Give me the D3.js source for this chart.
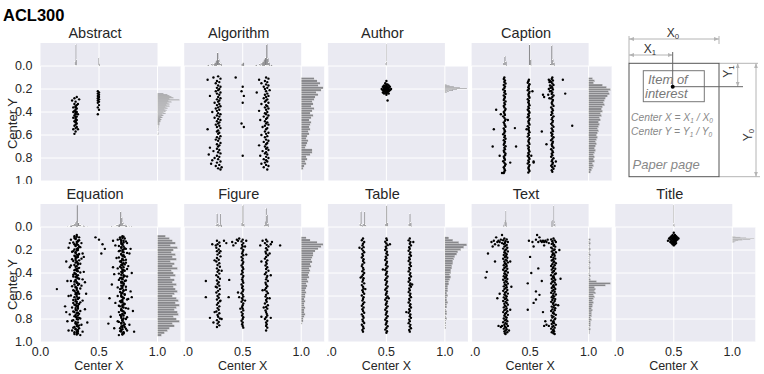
<!DOCTYPE html>
<html lang="en">
<head>
<meta charset="UTF-8">
<title>ACL300</title>
<script src="https://d3js.org/d3.v7.min.js"></script>
<style>
  body { margin: 0; background: #fff; font-family: "Liberation Sans", Arial, sans-serif; }
  svg text { fill: #262626; }
</style>
</head>
<body>
<div id="chart"></div>
<script>
// ---- data ----
const categories = ["Abstract", "Algorithm", "Author", "Caption", "Equation", "Figure", "Table", "Text", "Title"];
const yTicks = [0, 0.2, 0.4, 0.6, 0.8, 1.0];
const xTicks = [0, 0.5, 1.0];
const yTickLabels = ["0.0", "0.2", "0.4", "0.6", "0.8", "1.0"];
const xTickLabels = ["0.0", "0.5", "1.0"];

// scatter points [centerX, centerY]
const abstractPts = [[.29,.28],[.31,.27],[.27,.30],[.33,.29],[.30,.31],[.29,.33],[.31,.34],[.30,.35],[.28,.36],[.31,.37],[.30,.38],[.29,.39],[.31,.40],[.30,.41],[.30,.42],[.29,.43],[.31,.44],[.30,.45],[.28,.45],[.30,.46],[.31,.47],[.29,.48],[.30,.49],[.31,.50],[.30,.51],[.29,.52],[.31,.53],[.30,.54],[.28,.55],[.32,.55],[.30,.57],[.29,.59],[.30,.36],[.30,.40],[.30,.44],[.30,.48],[.32,.42],[.28,.40],[.32,.33],
  [.49,.22],[.50,.23],[.49,.24],[.50,.25],[.49,.26],[.50,.27],[.49,.28],[.50,.29],[.49,.30],[.50,.31],[.49,.32],[.50,.34],[.49,.36],[.50,.38],[.49,.42]];
const algorithmPts = [[.25,.10],[.29,.09],[.31,.11],[.20,.12],[.28,.13],[.30,.14],[.27,.15],[.29,.17],[.31,.18],[.28,.19],[.30,.20],[.29,.21],[.27,.22],[.31,.23],[.28,.24],[.30,.25],[.22,.26],[.29,.27],[.31,.28],[.28,.29],[.30,.30],[.29,.31],[.26,.32],[.30,.33],[.28,.34],[.31,.35],[.29,.36],[.27,.37],[.30,.38],[.28,.39],[.24,.40],[.29,.41],[.31,.42],[.28,.43],[.30,.44],[.26,.45],[.29,.46],[.31,.47],[.28,.48],[.30,.49],[.29,.50],[.27,.51],[.30,.52],[.28,.53],[.31,.54],[.20,.55],[.29,.56],[.28,.57],[.30,.58],[.29,.59],[.31,.61],[.28,.62],[.30,.63],[.27,.64],[.29,.65],[.31,.67],[.28,.68],[.30,.69],[.29,.70],[.22,.71],[.28,.72],[.30,.73],[.25,.74],[.29,.75],[.31,.76],[.21,.77],[.28,.78],[.30,.79],[.26,.80],[.29,.81],[.24,.82],[.31,.83],[.28,.84],[.23,.85],[.30,.86],[.27,.87],[.32,.88],[.29,.89],[.31,.90],
  [.44,.10],[.50,.18],[.49,.22],[.51,.26],[.50,.32],[.49,.50],[.51,.53],[.50,.78],
  [.70,.10],[.72,.11],[.64,.12],[.69,.13],[.71,.14],[.66,.15],[.70,.16],[.72,.17],[.68,.18],[.71,.19],[.69,.20],[.73,.21],[.70,.22],[.62,.23],[.71,.24],[.69,.25],[.72,.26],[.70,.27],[.68,.28],[.71,.29],[.70,.30],[.69,.31],[.72,.32],[.66,.33],[.70,.34],[.71,.35],[.69,.36],[.72,.37],[.70,.38],[.64,.39],[.71,.40],[.69,.41],[.70,.42],[.72,.43],[.68,.44],[.71,.45],[.70,.46],[.65,.47],[.69,.48],[.71,.49],[.70,.50],[.72,.51],[.69,.52],[.67,.53],[.71,.54],[.70,.55],[.69,.57],[.72,.58],[.70,.59],[.66,.60],[.71,.61],[.69,.62],[.70,.64],[.72,.65],[.68,.66],[.71,.67],[.70,.68],[.64,.69],[.69,.70],[.71,.71],[.70,.72],[.72,.73],[.67,.74],[.70,.75],[.69,.76],[.71,.77],[.65,.78],[.70,.79],[.72,.80],[.68,.81],[.70,.82],[.71,.83],[.69,.84],[.66,.85],[.70,.86],[.72,.87],[.68,.88],[.71,.90]];
const authorPts = [[.49,.15],[.50,.16],[.51,.16],[.48,.17],[.50,.17],[.52,.17],[.47,.18],[.49,.18],[.50,.18],[.51,.18],[.53,.18],[.48,.19],[.49,.19],[.50,.19],[.51,.19],[.52,.19],[.46,.20],[.48,.20],[.49,.20],[.50,.20],[.51,.20],[.52,.20],[.54,.20],[.47,.21],[.49,.21],[.50,.21],[.51,.21],[.53,.21],[.48,.22],[.50,.22],[.51,.22],[.52,.22],[.49,.23],[.50,.23],[.51,.23],[.48,.24],[.50,.24],[.52,.24],[.50,.25],[.51,.30],[.495,.185],[.505,.195],[.495,.205],[.505,.215],[.485,.195],[.515,.205],[.50,.13],[.47,.23]];
const captionPts = [[.28,.10],[.275,.113],[.285,.126],[.28,.139],[.29,.152],[.275,.165],[.285,.178],[.28,.191],[.27,.204],[.285,.217],[.28,.23],[.29,.243],[.275,.256],[.285,.269],[.28,.282],[.275,.295],[.29,.308],[.28,.321],[.285,.334],[.275,.347],[.28,.36],[.29,.373],[.285,.386],[.275,.399],[.28,.412],[.285,.425],[.27,.438],[.28,.451],[.29,.464],[.285,.477],[.275,.49],[.28,.503],[.285,.516],[.29,.529],[.275,.542],[.28,.555],[.285,.568],[.28,.581],[.27,.594],[.285,.607],[.28,.62],[.29,.633],[.275,.646],[.285,.659],[.28,.672],[.275,.685],[.29,.698],[.28,.711],[.285,.724],[.275,.737],[.28,.75],[.29,.763],[.285,.776],[.275,.789],[.28,.802],[.285,.815],[.27,.828],[.28,.841],[.29,.854],[.285,.867],[.275,.88],[.28,.893],[.285,.906],[.28,.919],[.275,.93],
  [.21,.38],[.19,.55],[.18,.70],[.37,.54],[.38,.70],[.25,.42],[.31,.47],[.24,.78],[.33,.84],[.26,.93],
  [.49,.12],[.485,.133],[.48,.146],[.495,.159],[.49,.172],[.485,.185],[.49,.198],[.48,.211],[.495,.224],[.49,.237],[.485,.25],[.49,.263],[.495,.276],[.48,.289],[.49,.302],[.485,.315],[.49,.328],[.495,.341],[.485,.354],[.49,.367],[.48,.38],[.49,.393],[.495,.406],[.485,.419],[.49,.432],[.48,.445],[.495,.458],[.49,.471],[.485,.484],[.49,.497],[.495,.51],[.48,.523],[.49,.536],[.485,.549],[.49,.562],[.495,.575],[.485,.588],[.49,.601],[.48,.614],[.495,.627],[.49,.64],[.485,.653],[.49,.666],[.495,.679],[.48,.692],[.49,.705],[.485,.718],[.49,.731],[.495,.744],[.485,.757],[.49,.77],[.48,.783],[.49,.796],[.495,.809],[.485,.822],[.49,.835],[.48,.848],[.495,.861],[.49,.874],[.485,.887],[.49,.90],[.495,.913],[.485,.926],
  [.52,.22],[.47,.55],[.51,.78],[.53,.84],
  [.69,.10],[.685,.113],[.695,.126],[.68,.139],[.69,.152],[.70,.165],[.685,.178],[.69,.191],[.695,.204],[.68,.217],[.69,.23],[.685,.243],[.70,.256],[.69,.269],[.68,.282],[.695,.295],[.69,.308],[.685,.321],[.69,.334],[.70,.347],[.68,.36],[.69,.373],[.695,.386],[.685,.399],[.69,.412],[.68,.425],[.70,.438],[.69,.451],[.685,.464],[.695,.477],[.69,.49],[.68,.503],[.69,.516],[.70,.529],[.685,.542],[.69,.555],[.695,.568],[.68,.581],[.69,.594],[.685,.607],[.70,.62],[.69,.633],[.68,.646],[.695,.659],[.69,.672],[.685,.685],[.69,.698],[.70,.711],[.68,.724],[.69,.737],[.695,.75],[.685,.763],[.69,.776],[.68,.789],[.70,.802],[.69,.815],[.685,.828],[.695,.841],[.69,.854],[.68,.867],[.69,.88],[.70,.893],[.685,.906],[.69,.919],
  [.66,.12],[.665,.14],[.67,.17],[.66,.20],[.67,.22],[.655,.25],[.665,.28],[.67,.13],[.675,.19],
  [.78,.12],[.80,.24],[.86,.52],[.61,.25],[.62,.27],[.60,.57],[.64,.68],[.53,.83],[.72,.83],[.71,.87]];
const equationPts = [[.31,.07],[.29,.08],[.33,.09],[.30,.10],[.26,.11],[.32,.12],[.31,.13],[.35,.14],[.29,.15],[.30,.16],[.33,.17],[.24,.18],[.31,.19],[.32,.20],[.28,.21],[.30,.22],[.36,.23],[.31,.24],[.29,.25],[.32,.26],[.30,.27],[.27,.28],[.33,.29],[.31,.30],[.30,.31],[.34,.32],[.29,.33],[.31,.34],[.25,.35],[.32,.36],[.30,.37],[.31,.38],[.37,.39],[.29,.40],[.30,.41],[.32,.42],[.28,.43],[.31,.44],[.33,.45],[.30,.46],[.26,.47],[.31,.48],[.32,.49],[.29,.50],[.35,.51],[.30,.52],[.31,.53],[.14,.54],[.28,.55],[.32,.56],[.30,.57],[.33,.58],[.31,.59],[.24,.60],[.29,.61],[.32,.62],[.30,.63],[.36,.64],[.31,.65],[.28,.66],[.33,.67],[.30,.68],[.31,.69],[.27,.70],[.32,.71],[.30,.72],[.34,.73],[.29,.74],[.31,.75],[.25,.76],[.32,.77],[.30,.78],[.33,.79],[.31,.80],[.28,.81],[.23,.82],[.32,.83],[.30,.84],[.35,.85],[.31,.86],[.29,.87],[.33,.88],[.30,.89],[.27,.90],[.32,.91],[.31,.92],[.29,.93],[.34,.94],
  [.31,.085],[.30,.105],[.32,.125],[.31,.145],[.30,.165],[.32,.185],[.31,.205],[.30,.225],[.32,.245],[.31,.265],[.30,.285],[.31,.305],[.32,.325],[.30,.345],[.31,.365],[.32,.385],[.30,.405],[.31,.425],[.32,.445],[.30,.465],[.31,.485],[.32,.505],[.30,.525],[.31,.545],[.32,.565],[.30,.585],[.31,.605],[.32,.625],[.30,.645],[.31,.665],[.32,.685],[.30,.705],[.31,.725],[.32,.745],[.30,.765],[.31,.785],[.32,.805],[.30,.825],[.31,.845],[.32,.865],[.30,.885],[.31,.905],[.32,.925],
  [.29,.095],[.33,.115],[.28,.135],[.32,.155],[.34,.175],[.29,.195],[.27,.215],[.33,.235],[.30,.255],[.35,.275],[.28,.295],[.32,.315],[.26,.335],[.33,.355],[.29,.375],[.34,.395],[.28,.415],[.30,.435],[.36,.455],[.29,.475],[.33,.495],[.27,.515],[.34,.535],[.29,.555],[.31,.575],[.26,.595],[.33,.615],[.28,.635],[.34,.655],[.29,.675],[.32,.695],[.38,.715],[.28,.735],[.33,.755],[.29,.775],[.34,.795],[.27,.815],[.30,.835],[.33,.855],[.28,.875],[.32,.895],[.29,.915],[.31,.935],[.22,.30],[.39,.58],[.21,.69],[.40,.83],[.23,.47],[.37,.26],[.24,.90],[.36,.91],[.25,.14],[.38,.48],[.22,.74],
  [.47,.09],[.50,.11],[.53,.15],[.55,.19],[.52,.23],
  [.70,.08],[.68,.09],[.72,.10],[.66,.11],[.71,.12],[.69,.13],[.74,.14],[.70,.15],[.64,.16],[.71,.17],[.69,.18],[.73,.19],[.70,.20],[.67,.21],[.71,.22],[.76,.23],[.69,.24],[.70,.25],[.72,.26],[.65,.27],[.70,.28],[.71,.29],[.68,.30],[.73,.31],[.70,.32],[.69,.33],[.75,.34],[.71,.35],[.66,.36],[.70,.37],[.72,.38],[.69,.39],[.70,.40],[.63,.41],[.71,.42],[.74,.43],[.69,.44],[.70,.45],[.67,.46],[.72,.47],[.70,.48],[.71,.49],[.61,.50],[.69,.51],[.73,.52],[.70,.53],[.68,.54],[.71,.55],[.77,.56],[.70,.57],[.69,.58],[.72,.59],[.66,.60],[.70,.61],[.71,.62],[.74,.63],[.69,.64],[.70,.65],[.64,.66],[.72,.67],[.70,.68],[.68,.69],[.71,.70],[.75,.71],[.69,.72],[.70,.73],[.67,.74],[.72,.75],[.70,.76],[.71,.77],[.60,.78],[.69,.79],[.73,.80],[.70,.81],[.66,.82],[.71,.83],[.69,.84],[.76,.85],[.70,.86],[.72,.87],[.68,.88],[.70,.89],[.74,.90],[.69,.91],[.71,.92],[.70,.93],[.67,.94],
  [.70,.095],[.69,.115],[.71,.135],[.70,.155],[.69,.175],[.71,.195],[.70,.215],[.69,.235],[.71,.255],[.70,.275],[.69,.295],[.71,.315],[.70,.335],[.69,.355],[.71,.375],[.70,.395],[.69,.415],[.71,.435],[.70,.455],[.69,.475],[.71,.495],[.70,.515],[.69,.535],[.71,.555],[.70,.575],[.69,.595],[.71,.615],[.70,.635],[.69,.655],[.71,.675],[.70,.695],[.69,.715],[.71,.735],[.70,.755],[.69,.775],[.71,.795],[.70,.815],[.69,.835],[.71,.855],[.70,.875],[.69,.895],[.71,.915],[.70,.935],
  [.71,.085],[.68,.105],[.73,.125],[.69,.145],[.67,.165],[.72,.185],[.68,.205],[.74,.225],[.71,.245],[.67,.265],[.73,.285],[.69,.305],[.72,.325],[.68,.345],[.74,.365],[.70,.385],[.67,.405],[.72,.425],[.68,.445],[.73,.465],[.69,.485],[.71,.505],[.66,.525],[.73,.545],[.68,.565],[.72,.585],[.69,.605],[.75,.625],[.68,.645],[.71,.665],[.67,.685],[.73,.705],[.69,.725],[.72,.745],[.68,.765],[.74,.785],[.70,.805],[.67,.825],[.72,.845],[.69,.865],[.73,.885],[.68,.905],[.71,.925],[.62,.35],[.78,.40],[.59,.62],[.79,.73],[.63,.88],[.77,.19],[.62,.12],[.78,.61],[.58,.84],[.80,.91]];
const figurePts = [[.28,.12],[.30,.135],[.285,.15],[.305,.165],[.275,.18],[.295,.195],[.28,.21],[.30,.225],[.285,.24],[.31,.255],[.28,.27],[.295,.285],[.275,.30],[.30,.315],[.285,.33],[.305,.345],[.28,.36],[.295,.375],[.285,.39],[.30,.405],[.275,.42],[.29,.435],[.305,.45],[.28,.465],[.295,.48],[.285,.495],[.30,.51],[.28,.525],[.305,.54],[.29,.555],[.275,.57],[.30,.585],[.285,.60],[.295,.615],[.28,.63],[.305,.645],[.29,.66],[.28,.675],[.30,.69],[.285,.705],[.295,.72],[.275,.735],[.30,.75],[.285,.765],[.29,.78],[.305,.795],[.28,.81],[.295,.825],[.285,.84],[.30,.855],[.28,.87],
  [.27,.16],[.31,.21],[.26,.29],[.32,.38],[.27,.52],[.31,.64],[.26,.74],[.32,.80],
  [.50,.11],[.49,.125],[.505,.14],[.495,.155],[.50,.17],[.49,.185],[.505,.20],[.50,.215],[.495,.23],[.505,.245],[.49,.26],[.50,.275],[.495,.29],[.505,.305],[.50,.32],[.49,.335],[.50,.35],[.505,.365],[.495,.38],[.50,.395],[.49,.41],[.505,.425],[.50,.44],[.495,.455],[.50,.47],[.505,.485],[.49,.50],[.50,.515],[.495,.53],[.505,.545],[.50,.56],[.49,.575],[.50,.59],[.505,.605],[.495,.62],[.50,.635],[.49,.65],[.505,.665],[.50,.68],[.495,.695],[.50,.71],[.505,.725],[.49,.74],[.50,.755],[.495,.77],[.505,.785],[.50,.80],[.49,.815],[.50,.83],[.495,.845],[.50,.86],[.505,.875],
  [.42,.16],[.45,.11],[.44,.14],[.47,.10],[.41,.13],[.46,.12],[.53,.12],[.52,.17],[.46,.57],[.47,.61],[.52,.64],[.53,.24],[.48,.71],
  [.70,.11],[.71,.125],[.69,.14],[.705,.155],[.72,.17],[.70,.185],[.71,.20],[.695,.215],[.70,.23],[.715,.245],[.70,.26],[.69,.275],[.71,.29],[.70,.305],[.705,.32],[.695,.335],[.71,.35],[.70,.365],[.72,.38],[.70,.395],[.69,.41],[.71,.425],[.705,.44],[.70,.455],[.715,.47],[.695,.485],[.70,.50],[.71,.515],[.70,.53],[.69,.545],[.705,.56],[.715,.575],[.70,.59],[.695,.605],[.71,.62],[.70,.635],[.705,.65],[.69,.665],[.715,.68],[.70,.695],[.71,.71],[.695,.725],[.70,.74],[.705,.755],[.71,.77],[.70,.785],[.69,.80],[.71,.815],[.70,.83],[.705,.845],[.70,.86],[.71,.875],[.70,.90],
  [.65,.16],[.67,.12],[.75,.13],[.82,.16],[.74,.15],[.66,.30],[.74,.42],[.73,.62],[.66,.78],[.74,.79],[.67,.55],[.73,.23],[.68,.70],
  [.185,.47],[.385,.46],[.185,.61],[.38,.61],[.22,.79],[.25,.83],[.34,.12],[.36,.14],[.24,.15]];
const tablePts = [[.30,.10],[.29,.115],[.31,.13],[.30,.145],[.295,.16],[.305,.175],[.29,.19],[.30,.205],[.31,.22],[.295,.235],[.30,.25],[.29,.265],[.305,.28],[.30,.295],[.31,.31],[.295,.325],[.29,.34],[.30,.355],[.305,.37],[.295,.385],[.31,.40],[.30,.415],[.29,.43],[.305,.445],[.30,.46],[.295,.475],[.31,.49],[.29,.505],[.30,.52],[.305,.535],[.295,.55],[.30,.565],[.31,.58],[.29,.595],[.305,.61],[.30,.625],[.295,.64],[.31,.655],[.30,.67],[.29,.685],[.305,.70],[.295,.715],[.30,.73],[.31,.745],[.29,.76],[.30,.775],[.305,.79],[.295,.805],[.30,.82],[.31,.835],[.29,.85],[.30,.865],[.305,.88],[.295,.895],[.30,.91],
  [.50,.10],[.505,.114],[.49,.128],[.50,.143],[.51,.158],[.495,.172],[.50,.186],[.49,.20],[.505,.215],[.50,.23],[.51,.244],[.495,.258],[.50,.272],[.49,.287],[.505,.302],[.50,.316],[.495,.33],[.51,.344],[.50,.359],[.49,.374],[.505,.388],[.50,.402],[.495,.416],[.51,.431],[.50,.446],[.49,.46],[.505,.474],[.50,.488],[.495,.503],[.51,.518],[.50,.532],[.49,.546],[.505,.56],[.50,.575],[.495,.59],[.51,.604],[.50,.618],[.49,.632],[.505,.647],[.50,.662],[.495,.676],[.51,.69],[.50,.704],[.49,.719],[.505,.734],[.50,.748],[.495,.762],[.51,.776],[.50,.791],[.49,.806],[.505,.82],[.50,.834],[.495,.848],[.51,.863],[.50,.878],[.49,.892],[.505,.906],[.50,.92],
  [.70,.10],[.69,.116],[.705,.131],[.70,.146],[.71,.16],[.695,.175],[.70,.19],[.69,.206],[.705,.221],[.70,.236],[.71,.25],[.695,.265],[.70,.28],[.69,.296],[.705,.311],[.70,.326],[.71,.34],[.695,.355],[.70,.37],[.69,.386],[.705,.401],[.70,.416],[.71,.43],[.695,.445],[.70,.46],[.69,.476],[.705,.491],[.70,.506],[.71,.52],[.695,.535],[.70,.55],[.69,.566],[.705,.581],[.70,.596],[.71,.61],[.695,.625],[.70,.64],[.69,.656],[.705,.671],[.70,.686],[.71,.70],[.695,.715],[.70,.73],[.69,.746],[.705,.761],[.70,.776],[.71,.79],[.695,.805],[.70,.82],[.69,.836],[.705,.851],[.70,.866],[.71,.88],[.695,.895],[.70,.91],
  [.28,.44],[.32,.54],[.47,.37],[.52,.62],[.72,.50],[.67,.74],[.27,.18],[.53,.15],[.73,.13]];
const textPts = [[.28,.10],[.30,.108],[.27,.115],[.29,.124],[.31,.131],[.285,.139],[.275,.148],[.30,.156],[.29,.163],[.28,.171],[.305,.18],[.27,.188],[.295,.195],[.285,.204],[.31,.212],[.28,.219],[.29,.228],[.30,.236],[.275,.243],[.295,.252],[.285,.26],[.305,.267],[.27,.276],[.29,.284],[.30,.291],[.28,.30],[.31,.308],[.285,.315],[.295,.324],[.275,.332],[.30,.339],[.29,.348],[.28,.356],[.305,.363],[.27,.372],[.295,.38],[.285,.387],[.31,.396],[.28,.404],[.29,.411],[.30,.42],[.275,.428],[.295,.435],[.285,.444],[.305,.452],[.27,.459],[.29,.468],[.30,.476],[.28,.483],[.31,.492],[.285,.50],[.295,.507],[.275,.516],[.30,.524],[.29,.531],[.28,.54],[.305,.548],[.27,.555],[.295,.564],[.285,.572],[.31,.579],[.28,.588],[.29,.596],[.30,.603],[.275,.612],[.295,.62],[.285,.627],[.305,.636],[.27,.644],[.29,.651],[.30,.66],[.28,.668],[.31,.675],[.285,.684],[.295,.692],[.275,.699],[.30,.708],[.29,.716],[.28,.723],[.305,.732],[.27,.74],[.295,.747],[.285,.756],[.31,.764],[.28,.771],[.29,.78],[.30,.788],[.275,.795],[.295,.804],[.285,.812],[.305,.819],[.27,.828],[.29,.836],[.30,.843],[.28,.852],[.31,.86],[.285,.867],[.295,.876],[.275,.884],[.30,.891],[.29,.90],[.28,.908],[.305,.915],[.285,.924],[.29,.93],
  [.70,.10],[.68,.108],[.71,.116],[.69,.123],[.72,.131],[.695,.14],[.685,.147],[.705,.155],[.70,.164],[.715,.171],[.68,.179],[.69,.188],[.71,.195],[.70,.203],[.685,.212],[.72,.219],[.695,.227],[.705,.236],[.69,.243],[.71,.251],[.68,.26],[.70,.267],[.715,.275],[.695,.284],[.685,.291],[.705,.299],[.70,.308],[.72,.315],[.69,.323],[.71,.332],[.68,.339],[.70,.347],[.695,.356],[.715,.363],[.685,.371],[.705,.38],[.70,.387],[.69,.395],[.72,.404],[.71,.411],[.68,.419],[.70,.428],[.695,.435],[.705,.443],[.685,.452],[.715,.459],[.70,.467],[.69,.476],[.71,.483],[.68,.491],[.72,.50],[.70,.507],[.695,.515],[.705,.524],[.685,.531],[.715,.539],[.70,.548],[.69,.555],[.71,.563],[.68,.572],[.70,.579],[.72,.587],[.695,.596],[.705,.603],[.685,.611],[.70,.62],[.715,.627],[.69,.635],[.71,.644],[.68,.651],[.70,.659],[.695,.668],[.72,.675],[.705,.683],[.685,.692],[.70,.699],[.715,.707],[.69,.716],[.71,.723],[.68,.731],[.70,.74],[.695,.747],[.705,.755],[.72,.764],[.685,.771],[.70,.779],[.69,.788],[.715,.795],[.71,.803],[.68,.812],[.70,.819],[.695,.827],[.705,.836],[.685,.843],[.72,.851],[.70,.86],[.69,.867],[.71,.875],[.68,.884],[.70,.891],[.695,.90],[.705,.907],[.685,.915],[.70,.924],[.71,.93],
  [.17,.13],[.19,.12],[.21,.09],[.22,.13],[.23,.12],[.24,.13],[.20,.15],[.25,.11],[.26,.07],[.18,.17],[.23,.16],[.26,.14],
  [.49,.12],[.52,.13],[.55,.11],[.57,.13],[.59,.12],[.60,.13],[.61,.12],[.62,.13],[.63,.12],[.64,.13],[.56,.07],[.58,.09],[.65,.11],[.66,.14],[.53,.17],[.62,.16],
  [.14,.23],[.13,.39],[.12,.44],[.24,.58],[.33,.30],[.34,.52],[.22,.62],[.33,.72],[.23,.86],[.25,.87],[.26,.86],[.32,.90],[.20,.30],
  [.50,.26],[.51,.40],[.48,.49],[.55,.56],[.58,.59],[.48,.72],[.55,.63],[.63,.82],[.62,.86],[.64,.85],[.66,.86],[.75,.20],[.76,.45],[.74,.68],[.60,.47],[.57,.36],[.53,.66],[.61,.74]];
const titlePts = [[.50,.05],[.49,.07],[.51,.07],[.48,.08],[.50,.08],[.52,.08],[.47,.09],[.49,.09],[.50,.09],[.51,.09],[.53,.09],[.46,.10],[.48,.10],[.49,.10],[.50,.10],[.51,.10],[.52,.10],[.47,.11],[.49,.11],[.50,.11],[.51,.11],[.53,.11],[.48,.12],[.50,.12],[.51,.12],[.52,.12],[.45,.12],[.49,.13],[.50,.13],[.51,.13],[.48,.14],[.50,.14],[.52,.14],[.49,.15],[.51,.15],[.50,.16],[.54,.10],[.47,.13]];

// top marginal histograms: [binStart, count], with bin width
const abstractTop = [[.294,4],[.30,20],[.306,6],[.495,8],[.501,2]];
const algorithmTop = [[.20,1],[.23,2],[.25,2],[.26,3],[.27,5],[.28,12],[.29,6],[.30,3],[.31,2],[.49,2],[.50,3],[.61,1],[.64,2],[.66,3],[.67,4],[.68,6],[.69,8],[.70,20],[.71,7],[.72,3],[.74,1]];
const authorTop = [[.493,3],[.497,20],[.501,4]];
const captionTop = [[.27,3],[.28,9],[.29,4],[.49,20],[.50,6],[.67,2],[.68,19],[.69,6],[.70,3]];
const equationTop = [[.22,1],[.24,1],[.25,2],[.26,2],[.27,3],[.28,4],[.29,5],[.30,8],[.31,30],[.32,6],[.33,4],[.34,3],[.35,2],[.36,2],[.37,1],[.39,1],[.60,1],[.62,1],[.63,2],[.64,2],[.65,3],[.66,3],[.67,4],[.68,21],[.69,13],[.70,6],[.71,4],[.72,3],[.73,2],[.74,2],[.75,1],[.77,1]];
const figureTop = [[.27,2],[.278,12],[.286,3],[.298,2],[.306,12],[.314,2],[.49,4],[.498,20],[.506,3],[.682,2],[.69,5],[.698,17],[.706,11],[.714,3]];
const tableTop = [[.272,3],[.28,14],[.288,2],[.302,3],[.31,14],[.318,2],[.49,3],[.498,20],[.506,4],[.69,3],[.698,12],[.706,4]];
const textTop = [[.27,2],[.28,5],[.285,6],[.29,14],[.295,4],[.68,5],[.69,6],[.70,19],[.705,5],[.71,3]];
const titleTop = [[.493,2],[.497,20],[.501,3]];
const topBinW = { Abstract: .006, Algorithm: .012, Author: .004, Caption: .01, Equation: .01, Figure: .008, Table: .008, Text: .005, Title: .004 };

// side marginal histograms: counts from the first bin start, with bin width
const abstractSide = [6,10,12,14,16,12,22,11,14,10,12,9,12,8,10,7,9,8,6,8,5,6,4,5,3,4,3,3,2,2,2,1,1,1,0,1,0,0,1,1];
const algorithmSide = [13,16,19,17,22,20,15,17,14,13,11,12,10,13,11,9,12,10,8,10,9,8,9,7,8,6,5,7,6,5,4,11,11,9,5,6,4,5,3,2];
const authorSide = [2,5,9,15,22,12,8,4,2];
const captionSide = [4,6,5,14,18,22,20,21,19,17,16,15,16,14,13,14,12,13,11,12,10,11,10,9,10,9,8,9,8,7,8,7,6,7,6,5,6,5,6,4,5,4,3,2];
const equationSide = [8,12,15,18,13,20,16,14,18,15,19,13,17,15,20,14,16,18,13,17,15,19,16,18,20,17,15,19,21,18,22,19,17,20,21,16,19,22,15,17,12,10,7,4];
const figureSide = [5,9,16,22,20,17,14,12,12,11,10,11,9,10,8,9,8,7,8,6,7,5,6,5,4,5,4,4,3,4,3,3,4,3,3,4,3,2,2,1];
const tableSide = [4,8,14,22,19,16,13,12,10,9,8,8,7,7,6,6,5,6,5,4,4,3,3,3,2,3,2,2,3,2,2,1,2,2,1,2,1,1,1,1];
const textSide = [2,1,2,1,1,2,1,1,2,1,1,1,2,1,1,2,1,1,1,2,1,2,8,22,17,6,7,6,7,5,6,5,4,5,4,4,3,4,3,3,3,2,3,2,2,2,1,2,1,1];
const titleSide = [3,8,14,22,18,10,6,3,2];
const sideStart = { Abstract: .236, Algorithm: .10, Author: .16, Caption: .10, Equation: .07, Figure: .085, Table: .085, Text: .10, Title: .08 };
const sideBinW = { Abstract: .009, Algorithm: .02, Author: .008, Caption: .0189, Equation: .02, Figure: .019, Table: .02, Text: .0166, Title: .006 };

const pointsBy = { Abstract: abstractPts, Algorithm: algorithmPts, Author: authorPts, Caption: captionPts, Equation: equationPts, Figure: figurePts, Table: tablePts, Text: textPts, Title: titlePts };
const topBy = { Abstract: abstractTop, Algorithm: algorithmTop, Author: authorTop, Caption: captionTop, Equation: equationTop, Figure: figureTop, Table: tableTop, Text: textTop, Title: titleTop };
const sideBy = { Abstract: abstractSide, Algorithm: algorithmSide, Author: authorSide, Caption: captionSide, Equation: equationSide, Figure: figureSide, Table: tableSide, Text: textSide, Title: titleSide };

// ---- layout ----
const W = 764, H = 374;
const colX = [40.5, 184.2, 327.9, 471.6, 615.3];
const rowY = [43, 204];            // top edge of the top marginal
const mainW = 117, mainH = 115, margH = 23, sideW = 23;
const slot = { Abstract: [0,0], Algorithm: [1,0], Author: [2,0], Caption: [3,0],
               Equation: [0,1], Figure: [1,1], Table: [2,1], Text: [3,1], Title: [4,1] };
const bg = "#eaeaf2", barFill = "rgba(0,0,0,0.42)";

const svg = d3.select("#chart").append("svg").attr("width", W).attr("height", H);

svg.append("text").attr("x", 3).attr("y", 21)
  .style("font-size", "16.5px").style("font-weight", "bold").style("fill", "#000")
  .text("ACL300");

const defs = svg.append("defs");

categories.forEach(cat => {
  const [c, r] = slot[cat];
  const g = svg.append("g").attr("transform", `translate(${colX[c]},${rowY[r]})`);
  const x = d3.scaleLinear().domain([0, 1]).range([0, mainW]);
  const y = d3.scaleLinear().domain([0, 1]).range([margH, margH + mainH]);

  // backgrounds
  g.append("rect").attr("x", 0).attr("y", 0).attr("width", mainW).attr("height", margH).attr("fill", bg);
  g.append("rect").attr("x", 0).attr("y", margH).attr("width", mainW).attr("height", mainH).attr("fill", bg);
  g.append("rect").attr("x", mainW).attr("y", margH).attr("width", sideW).attr("height", mainH).attr("fill", bg);

  // grid
  g.selectAll(".hg").data(yTicks).join("line")
    .attr("x1", 0).attr("x2", mainW + sideW)
    .attr("y1", d => y(d)).attr("y2", d => y(d))
    .attr("stroke", "#fff").attr("stroke-width", 1);
  g.selectAll(".vg").data(xTicks).join("line")
    .attr("x1", d => x(d)).attr("x2", d => x(d))
    .attr("y1", d => d === 0.5 ? 0 : margH).attr("y2", margH + mainH)
    .attr("stroke", "#fff").attr("stroke-width", 1);

  // top marginal histogram
  const tb = topBy[cat], tw = topBinW[cat];
  const hTop = d3.scaleLinear().domain([0, d3.max(tb, d => d[1]) * 1.05]).range([0, margH]);
  g.append("g").selectAll("rect").data(tb).join("rect")
    .attr("x", d => x(d[0])).attr("width", x(tw) - x(0))
    .attr("y", d => margH - hTop(d[1])).attr("height", d => hTop(d[1]))
    .attr("fill", barFill).attr("stroke", "#fff").attr("stroke-width", 0.15);

  // side marginal histogram
  const sb = sideBy[cat], s0 = sideStart[cat], sw = sideBinW[cat];
  const wSide = d3.scaleLinear().domain([0, d3.max(sb) * 1.05]).range([0, sideW]);
  g.append("g").selectAll("rect").data(sb).join("rect")
    .attr("x", mainW).attr("width", d => wSide(d))
    .attr("y", (d, i) => y(s0 + i * sw)).attr("height", y(sw) - y(0))
    .attr("fill", barFill).attr("stroke", "#fff").attr("stroke-width", 0.25);

  // scatter
  g.append("g").selectAll("circle").data(pointsBy[cat]).join("circle")
    .attr("cx", d => x(d[0])).attr("cy", d => y(d[1])).attr("r", 1.2)
    .attr("fill", "#000");

  // title
  g.append("text").attr("x", mainW / 2 - 4).attr("y", -5.5).attr("text-anchor", "middle")
    .style("font-size", "14.5px").text(cat);

  // y axis labels on first column (top row is cropped just under the plot)
  if (c === 0) {
    const yc = "yclip" + r;
    defs.append("clipPath").attr("id", yc).append("rect")
      .attr("x", -40).attr("y", -5).attr("width", 40).attr("height", r === 0 ? margH + mainH + 8 : 200);
    const yl = g.append("g").attr("clip-path", `url(#${yc})`);
    yl.selectAll("text").data(yTicks).join("text")
      .attr("x", -8).attr("y", d => y(d)).attr("dy", "0.35em").attr("text-anchor", "end")
      .style("font-size", "12.5px").text((d, i) => yTickLabels[i]);
    g.append("text").attr("transform", `translate(${-24},${margH + mainH / 2}) rotate(-90)`)
      .attr("text-anchor", "middle").style("font-size", "13px").text("Center Y");
  }
  // x axis labels on the bottom row (later panels are cropped at their left edge)
  if (r === 1) {
    const clipId = "xclip" + c;
    defs.append("clipPath").attr("id", clipId).append("rect")
      .attr("x", c === 0 ? -40 : -1.5).attr("y", 0).attr("width", 200).attr("height", 200);
    const xl = g.append("g").attr("clip-path", `url(#${clipId})`);
    xl.selectAll("text").data(xTicks).join("text")
      .attr("x", d => x(d)).attr("y", margH + mainH + 14).attr("text-anchor", "middle")
      .style("font-size", "12.5px").text((d, i) => xTickLabels[i]);
    g.append("text").attr("x", mainW / 2).attr("y", margH + mainH + 27.5).attr("text-anchor", "middle")
      .style("font-size", "12.5px").text("Center X");
  }
});

// ---- explanatory sketch in the free slot ----
const sk = svg.append("g");
const lightC = "#b4b4b4", darkC = "#666";
defs.append("marker").attr("id", "arr").attr("viewBox", "0 0 10 10").attr("refX", 10).attr("refY", 5)
  .attr("markerWidth", 5).attr("markerHeight", 5).attr("orient", "auto-start-reverse")
  .append("path").attr("d", "M0,1 L10,5 L0,9 z").attr("fill", lightC);
const page = { x0: 629, x1: 719, y0: 63.3, y1: 176.7 };
const item = { x: 672.7, y: 86.7 };
function ln(x1, y1, x2, y2, col, arrows) {
  const l = sk.append("line").attr("x1", x1).attr("y1", y1).attr("x2", x2).attr("y2", y2)
    .attr("stroke", col).attr("stroke-width", 1);
  if (arrows) l.attr("marker-start", "url(#arr)").attr("marker-end", "url(#arr)");
}
// extension lines
ln(page.x0, 36, page.x0, page.y0, lightC);
ln(page.x1, 36, page.x1, 44, lightC);
ln(page.x1, page.y0, 758, page.y0, lightC);
ln(page.x1, page.y1, 760, page.y1, lightC);
// dimension lines
ln(page.x0, 39, page.x1, 39, lightC, true);
ln(page.x0, 55, item.x, 55, lightC, true);
ln(737.7, page.y0, 737.7, item.y, lightC, true);
ln(756, page.y0, 756, page.y1, lightC, true);
// page & item
sk.append("rect").attr("x", page.x0).attr("y", page.y0).attr("width", page.x1 - page.x0).attr("height", page.y1 - page.y0)
  .attr("fill", "none").attr("stroke", "#555").attr("stroke-width", 1);
sk.append("rect").attr("x", 643.3).attr("y", 70.7).attr("width", 61).attr("height", 31)
  .attr("fill", "none").attr("stroke", "#777").attr("stroke-width", 1);
ln(item.x, 52, item.x, item.y, darkC);
ln(item.x, item.y, 743, item.y, darkC);
sk.append("circle").attr("cx", item.x).attr("cy", item.y).attr("r", 2).attr("fill", "#000");

function label(xp, yp, main, sub, size, rot) {
  const t = sk.append("text").attr("text-anchor", "middle").style("font-size", size + "px").style("fill", "#333");
  if (rot) t.attr("transform", `translate(${xp},${yp}) rotate(-90)`);
  else t.attr("x", xp).attr("y", yp);
  t.append("tspan").text(main);
  t.append("tspan").attr("dy", 2).style("font-size", (size * 0.65) + "px").text(sub);
}
label(673, 36.5, "X", "0", 12);
label(650, 52.5, "X", "1", 12);
label(732, 71.7, "Y", "1", 12, true);
label(752, 135, "Y", "0", 12, true);

const it = sk.append("g").style("font-style", "italic");
it.append("text").attr("x", 648).attr("y", 84).style("font-size", "13px").style("fill", "#777").text("Item of");
it.append("text").attr("x", 645).attr("y", 98).style("font-size", "13px").style("fill", "#777").text("interest");
function formula(yp, v) {
  const t = it.append("text").attr("x", 631).attr("y", yp).style("font-size", "10.3px").style("fill", "#888");
  t.append("tspan").text(`Center ${v} = ${v}`);
  t.append("tspan").attr("dy", 1.5).style("font-size", "6.5px").text("1");
  t.append("tspan").attr("dy", -1.5).text(" / " + v);
  t.append("tspan").attr("dy", 1.5).style("font-size", "6.5px").text("0");
}
formula(121, "X");
formula(135, "Y");
it.append("text").attr("x", 632.5).attr("y", 168.5).style("font-size", "13px").style("fill", "#888").text("Paper page");
</script>
</body>
</html>
